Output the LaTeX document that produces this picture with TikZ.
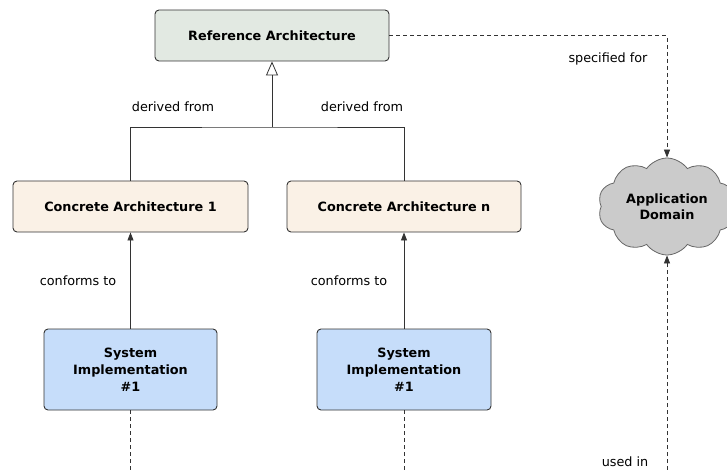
\documentclass[tikz,border=0pt]{standalone}
\usepackage{fontspec}
\setmainfont{DejaVu Sans}
\usetikzlibrary{arrows.meta,shapes.symbols}
\definecolor{refFill}{HTML}{E2E9E2}
\definecolor{concFill}{HTML}{FAF1E6}
\definecolor{sysFill}{HTML}{C6DDFA}
\definecolor{cloudFill}{HTML}{CBCBCB}
\definecolor{lineC}{HTML}{333333}
\tikzset{
  box/.style={draw=lineC, line width=0.9pt, rounded corners=4pt, align=center,
    font=\fontsize{12.8}{17}\selectfont\bfseries, inner sep=0pt},
  lbl/.style={font=\fontsize{12.8}{15}\selectfont, text=black, inner sep=0pt},
  conn/.style={draw=lineC, line width=0.8pt},
  dashline/.style={draw=lineC, line width=0.8pt, dash pattern=on 4pt off 3pt},
  tiparrow/.style={-{Triangle[length=8pt,width=6pt]}},
}
\begin{document}
\begin{tikzpicture}[x=1pt,y=-1pt]
\useasboundingbox (0,0) rectangle (727,470);
\node[box, fill=refFill, minimum width=234pt, minimum height=51pt] (ref) at (272,35.5) {Reference Architecture};
\node[box, fill=concFill, minimum width=235pt, minimum height=51pt] (c1) at (130.5,206.5) {Concrete Architecture 1};
\node[box, fill=concFill, minimum width=234pt, minimum height=51pt] (cn) at (404,206.5) {Concrete Architecture n};
\node[box, fill=sysFill, minimum width=173pt, minimum height=81pt] (s1) at (130.5,369.5) {System\\Implementation\\\#1};
\node[box, fill=sysFill, minimum width=174pt, minimum height=81pt] (sn) at (404,369.5) {System\\Implementation\\\#1};
\node[cloud, cloud puffs=10, cloud puff arc=110, cloud ignores aspect, draw=gray!80!black, line width=0.8pt, fill=cloudFill,
  minimum width=138pt, minimum height=97pt, align=center, inner sep=0pt,
  font=\fontsize{12.8}{16}\selectfont\bfseries] (dom) at (667,206.5) {Application\\Domain};

\coordinate (j) at (272,127);
\draw[conn] (c1.north) |- (j) -| (cn.north);
\draw[conn, -{Triangle[open,length=14pt,width=12pt]}] (j) -- (ref.south);

\draw[conn, tiparrow] (s1.north) -- (c1.south);
\draw[conn, tiparrow] (sn.north) -- (cn.south);

\coordinate (e1) at (130.5,470);
\coordinate (e2) at (404,470);
\coordinate (e3) at (667,470);
\draw[dashline] (s1.south) -- (e1);
\draw[dashline] (sn.south) -- (e2);
\draw[dashline, tiparrow] (ref.east) -| (dom.north);
\draw[dashline, tiparrow] (e3) -- (dom.south);

\node[lbl] (l1) at (173,107) {derived from};
\node[lbl] (l2) at (362,107) {derived from};
\node[lbl] (l3) at (608,59) {specified for};
\node[lbl] (l4) at (78,281) {conforms to};
\node[lbl] (l5) at (349,281) {conforms to};
\node[lbl] (l6) at (625,462) {used in};
\end{tikzpicture}
\end{document}
